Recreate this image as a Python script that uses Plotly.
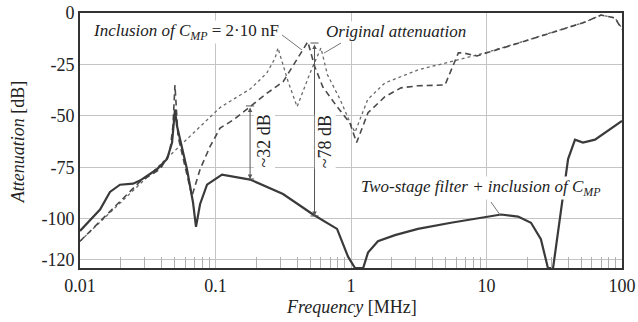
import math
import plotly.graph_objects as go

# ---------------- data (frequency in MHz, attenuation in dB) ----------------
orig_f = [0.01, 0.05, 0.108, 0.135, 0.18, 0.213, 0.24, 0.275, 0.289, 0.34, 0.40,
          0.50, 0.60, 0.67, 0.83, 0.98, 1.07, 1.33, 1.78, 3.12, 5.47, 9.75,
          17.1, 29.9, 53.3, 70, 88.8, 98.4, 100]
orig_db = [-111, -67, -46, -42, -37, -32.5, -29, -22, -17, -32.5, -45.6,
           -29, -17, -30, -42, -53, -58, -42, -34, -27.7, -23.7, -19.4,
           -14.6, -9.7, -4.4, -1, -2.4, -6.8, -8]

cmp_f = [0.01, 0.0277, 0.039, 0.046, 0.0485, 0.0502, 0.0529, 0.067, 0.077, 0.091,
         0.108, 0.135, 0.18, 0.24, 0.315, 0.372, 0.44, 0.48, 0.54, 0.62, 0.79,
         0.98, 1.1, 1.335, 1.78, 2.34, 3.12, 4.94, 6.2, 6.7, 8.5, 10.1,
         17.1, 29.9, 53.3, 70, 88.8, 98.4, 100]
cmp_db = [-111, -82, -76, -68, -55, -35, -60, -89, -76, -65,
          -56, -52, -45.6, -39, -33.5, -26, -18, -14, -26, -36, -45.6,
          -53.4, -63, -48.5, -40.7, -36.4, -35.4, -35, -19.4, -19.4, -20.9, -19.4,
          -14.6, -9.7, -4.4, -1, -2.4, -6.8, -8]

two_f = [0.01, 0.01406, 0.01664, 0.01973, 0.0246, 0.0277, 0.037, 0.0439, 0.0478,
         0.0502, 0.052, 0.0616, 0.0682, 0.0718, 0.0769, 0.0866, 0.1117, 0.18,
         0.315, 0.525, 0.789, 0.951, 1.07, 1.23, 1.335, 1.58, 2.11, 3.12, 5.47,
         9.75, 12.8, 17.1, 21.3, 25.2, 28.4, 31, 40, 45, 51.5, 63.2, 100]
two_db = [-106, -95.6, -87, -83.5, -83, -81.5, -76, -71, -63,
          -47, -55, -76, -92, -104, -93, -83.5, -78.6, -81,
          -88, -98, -105, -118.5, -124, -124, -116.5, -111, -108, -105, -102,
          -99.5, -98, -99, -102, -110, -124, -124, -71, -61.6, -63, -61.6, -52.5]

x_tickvals = [0.01, 0.1, 1, 10, 100]
x_ticktext = ["0.01", "0.1", "1", "10", "100"]
y_tickvals = [0, -25, -50, -75, -100, -120]
y_ticktext = ["0", "-25", "-50", "-75", "-100", "-120"]

# difference markers (frequency, upper dB, lower dB, label, label frequency)
diff_marks = [(0.18, -45.2, -80.7, "~32 dB", 0.228),
              (0.538, -14.6, -98.7, "~78 dB", 0.64)]

FONT = "Liberation Serif, Times New Roman, Tinos, DejaVu Serif, serif"
TXT = "#222222"

fig = go.Figure()
fig.add_trace(go.Scatter(x=orig_f, y=orig_db, mode="lines",
                         line=dict(color="#6a6a6a", width=1.3, dash="dot"),
                         name="Original attenuation"))
fig.add_trace(go.Scatter(x=cmp_f, y=cmp_db, mode="lines",
                         line=dict(color="#4a4a4a", width=1.6, dash="6px,4px"),
                         name="Inclusion of CMP"))
fig.add_trace(go.Scatter(x=two_f, y=two_db, mode="lines",
                         line=dict(color="#3a3a3a", width=2.2),
                         name="Two-stage filter"))

L = math.log10
annotations = []
shapes = []

# labels
annotations.append(dict(x=L(0.01228), y=-9.2, xref="x", yref="y", xanchor="left", yanchor="middle",
                        text="<i>Inclusion of C<sub>MP</sub></i> = 2·10 nF", showarrow=False,
                        font=dict(family=FONT, size=17, color=TXT), bgcolor="white", borderpad=0))
annotations.append(dict(x=L(0.643), y=-8.8, xref="x", yref="y", xanchor="left", yanchor="middle",
                        text="<i>Original attenuation</i>", showarrow=False,
                        font=dict(family=FONT, size=17, color=TXT), bgcolor="white", borderpad=0))
annotations.append(dict(x=L(1.165), y=-85.1, xref="x", yref="y", xanchor="left", yanchor="middle",
                        text="<i>Two-stage filter + inclusion of C<sub>MP</sub></i>", showarrow=False,
                        font=dict(family=FONT, size=17, color=TXT), bgcolor="white", borderpad=0))

# leader lines (shapes on a log axis take data values)
for (xa, ya, xb, yb) in [(0.31, -10.7, 0.435, -18.0),
                         (0.844, -14.6, 0.632, -19.5),
                         (10.79, -91.9, 12.6, -98.2)]:
    shapes.append(dict(type="line", xref="x", yref="y", x0=xa, y0=ya, x1=xb, y1=yb,
                       line=dict(color="#777777", width=1)))

# difference arrows
for f, top, bot, lab, lab_f in diff_marks:
    annotations.append(dict(x=L(f), y=bot, ax=L(f), ay=top, xref="x", yref="y",
                            axref="x", ayref="y", text="", showarrow=True,
                            arrowhead=2, startarrowhead=2, arrowside="end+start",
                            arrowsize=0.9, startarrowsize=0.9, arrowwidth=1, arrowcolor="#555555"))
    for yv in (top, bot):
        shapes.append(dict(type="line", xref="x", yref="y", x0=f * 10 ** -0.03, x1=f * 10 ** 0.03,
                           y0=yv, y1=yv, line=dict(color="#555555", width=1)))
    annotations.append(dict(x=L(lab_f), y=-62.5, xref="x", yref="y", text=lab, textangle=-90,
                            showarrow=False, xanchor="center", yanchor="middle",
                            font=dict(family=FONT, size=18, color=TXT), bgcolor="white", borderpad=0))

# axis titles
annotations.append(dict(x=-0.114, y=0.494, xref="paper", yref="paper", textangle=-90,
                        text="<i>Attenuation</i> [dB]", showarrow=False, xanchor="center", yanchor="middle",
                        font=dict(family=FONT, size=18, color=TXT)))
annotations.append(dict(x=0.5, y=-0.153, xref="paper", yref="paper",
                        text="<i>Frequency</i> [MHz]", showarrow=False, xanchor="center", yanchor="middle",
                        font=dict(family=FONT, size=18, color=TXT)))

minor_vals = [m * 10 ** k for k in range(-2, 2) for m in range(2, 10)]

fig.update_layout(
    width=638, height=322,
    margin=dict(l=80, r=16, t=13, b=54, pad=0, autoexpand=False),
    paper_bgcolor="white", plot_bgcolor="white",
    showlegend=False,
    annotations=annotations, shapes=shapes,
    font=dict(family=FONT, size=18, color=TXT),
)
fig.update_xaxes(type="log", range=[-2, 2], tickmode="array", tickvals=x_tickvals, ticktext=x_ticktext,
                 showgrid=True, gridcolor="#c4c4c4", gridwidth=1.3, automargin=False,
                 showline=True, linecolor="#333333", linewidth=2, mirror=True,
                 ticks="", tickfont=dict(family=FONT, size=18, color=TXT),
                 minor=dict(tickmode="array", tickvals=minor_vals, ticks="inside", ticklen=11,
                            tickcolor="#b0b0b0", tickwidth=1, showgrid=False),
                 zeroline=False)
fig.update_yaxes(range=[-124, 0], tickmode="array", tickvals=y_tickvals, ticktext=y_ticktext,
                 showgrid=True, gridcolor="#c4c4c4", gridwidth=1.3, automargin=False,
                 showline=True, linecolor="#333333", linewidth=2, mirror=True,
                 ticks="", tickfont=dict(family=FONT, size=18, color=TXT),
                 zeroline=False)

fig.write_html("out.html", config={"displayModeBar": False},
               post_script="document.body.style.margin='0';document.body.style.padding='0';")
